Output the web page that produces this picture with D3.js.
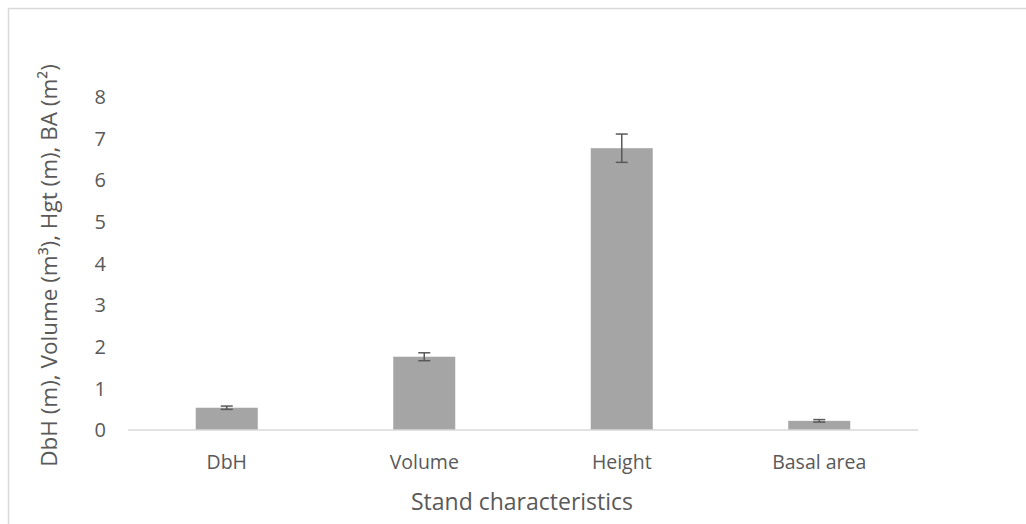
<!DOCTYPE html>
<html><head><meta charset="utf-8">
<script src="https://cdn.jsdelivr.net/npm/d3@7"></script>
<style>body{margin:0;background:#fff}svg{display:block;font-family:"Open Sans","Noto Sans",sans-serif}</style>
</head><body><svg id="c" width="1026" height="524"></svg>
<script>
const categories = ["DbH", "Volume", "Height", "Basal area"];
const values = [0.535, 1.76, 6.77, 0.22];
const errors = [0.04, 0.095, 0.34, 0.03];
const yTicks = [0, 1, 2, 3, 4, 5, 6, 7, 8];
const yTitle = "DbH (m), Volume (m\u00B3), Hgt (m), BA (m\u00B2)";
const xTitle = "Stand characteristics";

const svg = d3.select("#c");
const textCol = "#595959";
svg.append("rect").attr("x", 8.5).attr("y", 8.5).attr("width", 1100).attr("height", 600)
  .attr("fill", "none").attr("stroke", "#d9d9d9").attr("stroke-width", 1.5);

const x = d3.scaleBand().domain(categories).range([128, 918]).paddingInner(0.686).paddingOuter(0.343);
const y = d3.scaleLinear().domain([0, 8]).range([430, 97]);

// bars
svg.selectAll("rect.bar").data(categories).join("rect").attr("class", "bar")
  .attr("x", d => x(d)).attr("width", x.bandwidth())
  .attr("y", (d, i) => y(values[i])).attr("height", (d, i) => y(0) - y(values[i]))
  .attr("fill", "#a5a5a5");

// axis line
svg.append("line").attr("x1", 128).attr("x2", 918).attr("y1", y(0)).attr("y2", y(0))
  .attr("stroke", "#d9d9d9").attr("stroke-width", 1.5);

// error bars
const eg = svg.append("g").attr("stroke", "#595959").attr("stroke-width", 1.5);
categories.forEach((c, i) => {
  const cx = x(c) + x.bandwidth() / 2;
  const top = y(values[i] + errors[i]), bot = y(values[i] - errors[i]);
  eg.append("line").attr("x1", cx).attr("x2", cx).attr("y1", top).attr("y2", bot);
  eg.append("line").attr("x1", cx - 6).attr("x2", cx + 6).attr("y1", top).attr("y2", top);
  eg.append("line").attr("x1", cx - 6).attr("x2", cx + 6).attr("y1", bot).attr("y2", bot);
});

// y ticks labels
svg.selectAll("text.yt").data(yTicks).join("text").attr("class", "yt")
  .attr("x", 106).attr("y", d => y(d)).attr("dy", "0.36em").attr("text-anchor", "end")
  .attr("fill", textCol).attr("font-size", 20).text(d => d);

// x labels
svg.selectAll("text.xt").data(categories).join("text").attr("class", "xt")
  .attr("x", d => x(d) + x.bandwidth() / 2).attr("y", 469)
  .attr("text-anchor", "middle").attr("fill", textCol).attr("font-size", 19.5).text(d => d);

// titles
svg.append("text").attr("x", 522).attr("y", 510).attr("text-anchor", "middle")
  .attr("fill", textCol).attr("font-size", 23).text(xTitle);
svg.append("text").attr("transform", "translate(57,265.5) rotate(-90)").attr("text-anchor", "middle")
  .attr("fill", textCol).attr("font-size", 22.5).text(yTitle);
</script></body></html>
